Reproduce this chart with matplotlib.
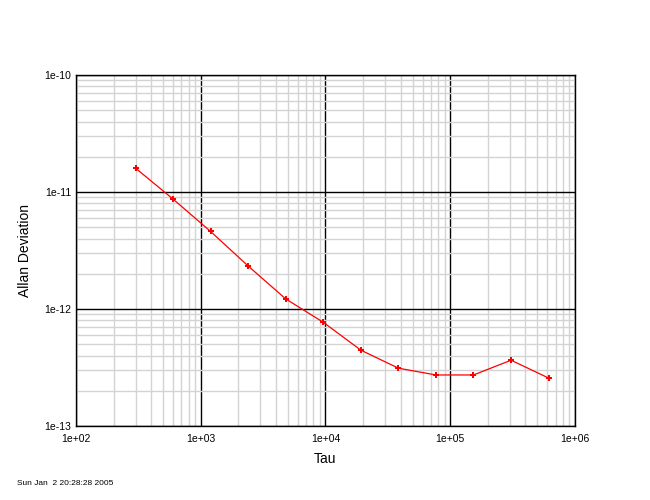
import matplotlib
matplotlib.use('Agg')
import matplotlib.pyplot as plt
from matplotlib.ticker import LogLocator, FixedLocator, NullFormatter

plt.rcParams['font.family'] = ['Liberation Sans', 'DejaVu Sans']

# Allan deviation data
tau = [300, 600, 1200, 2400, 4800, 9600, 19200, 38400, 76800, 153600, 307200, 614400]
adev = [1.6e-11, 8.7e-12, 4.6e-12, 2.33e-12, 1.22e-12, 7.7e-13,
        4.45e-13, 3.12e-13, 2.73e-13, 2.73e-13, 3.65e-13, 2.57e-13]

x_ticks = [1e2, 1e3, 1e4, 1e5, 1e6]
x_labels = ['1e+02', '1e+03', '1e+04', '1e+05', '1e+06']
y_ticks = [1e-13, 1e-12, 1e-11, 1e-10]
y_labels = ['1e-13', '1e-12', '1e-11', '1e-10']

fig = plt.figure(figsize=(6.5, 5), dpi=100)
ax = fig.add_axes([0.1169, 0.148, 0.7677, 0.702])

ax.set_xscale('log')
ax.set_yscale('log')
ax.set_xlim(1e2, 1e6)
ax.set_ylim(1e-13, 1e-10)

ax.xaxis.set_major_locator(FixedLocator(x_ticks))
ax.yaxis.set_major_locator(FixedLocator(y_ticks))
ax.set_xticklabels(x_labels)
ax.set_yticklabels(y_labels)
ax.xaxis.set_minor_locator(LogLocator(base=10, subs=range(2, 10), numticks=20))
ax.yaxis.set_minor_locator(LogLocator(base=10, subs=range(2, 10), numticks=20))
ax.xaxis.set_minor_formatter(NullFormatter())
ax.yaxis.set_minor_formatter(NullFormatter())

ax.grid(True, which='minor', color='#d3d3d3', linewidth=1.0)
ax.grid(True, which='major', color='black', linewidth=1.0)
ax.set_axisbelow(True)
ax.tick_params(which='both', length=0, labelsize=7.5)
ax.tick_params(axis='x', pad=5.5)
ax.tick_params(axis='y', pad=3.5)

for s in ax.spines.values():
    s.set_linewidth(1.0)

ax.plot(tau, adev, color='red', linewidth=0.9, marker='P', markersize=4.5,
        markeredgewidth=0, markerfacecolor='red', zorder=5)

ax.set_xlabel('Tau', fontsize=10, labelpad=6)
ax.set_ylabel('Allan Deviation', fontsize=10, labelpad=9)

fig.text(0.026, 0.030, 'Sun Jan  2 20:28:28 2005', fontsize=6)

fig.savefig('out.png', dpi=100)
